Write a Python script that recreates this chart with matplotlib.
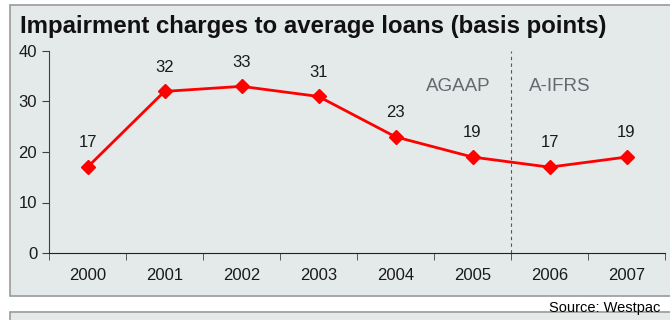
import matplotlib.pyplot as plt
from matplotlib.patches import Rectangle
import numpy as np

plt.rcParams['font.family'] = ['Liberation Sans', 'DejaVu Sans']

years = ['2000', '2001', '2002', '2003', '2004', '2005', '2006', '2007']
values = [17, 32, 33, 31, 23, 19, 17, 19]

bg = '#e4e9ea'
fig = plt.figure(figsize=(6.7, 3.2), dpi=100)

# panel boxes behind the axes
fig.patches.append(Rectangle((10 / 670, 1 - 296 / 320), 1.0, 291 / 320, transform=fig.transFigure,
                             facecolor=bg, edgecolor='#9a9a9a', lw=1.2, zorder=-5))
fig.patches.append(Rectangle((10 / 670, -0.05), 1.0, 0.05 + 8 / 320, transform=fig.transFigure,
                             facecolor=bg, edgecolor='#9a9a9a', lw=1.2, zorder=-5))

ax = fig.add_axes([49 / 670, 1 - 253 / 320, 616 / 670, 202 / 320])
ax.set_facecolor('none')

x = np.arange(len(years))
ax.plot(x, values, color='#ff0000', lw=2, marker='D', ms=7, zorder=3)
for xi, v in zip(x, values):
    ax.annotate(str(v), (xi, v), xytext=(0, 12), textcoords='offset points',
                ha='center', va='bottom', fontsize=12, color='#1a1a1a')

ax.axvline(5.5, color='#555555', lw=0.8, ls=(0, (3, 3)))
ax.text(4.81, 33, 'AGAAP', color='#5f6b6d', fontsize=13.5, ha='center', va='center')
ax.text(6.14, 33, 'A-IFRS', color='#5f6b6d', fontsize=13.5, ha='center', va='center')

ax.set_xlim(-0.5, 7.5)
ax.set_ylim(0, 40)
ax.set_yticks([0, 10, 20, 30, 40])
ax.set_xticks(x)
ax.set_xticklabels(years, fontsize=12)
ax.set_xticks(np.arange(-0.5, 8, 1), minor=True)
ax.tick_params(axis='x', which='major', length=0, pad=11)
ax.tick_params(axis='x', which='minor', length=5, direction='out', color='#404040')
ax.tick_params(axis='y', length=5, labelsize=12, color='#404040')
ax.tick_params(labelcolor='#1a1a1a')
for s in ['top', 'right']:
    ax.spines[s].set_visible(False)
ax.spines['left'].set_color('#404040')
ax.spines['bottom'].set_color('#202020')

fig.text(20 / 670, 1 - 27 / 320, 'Impairment charges to average loans (basis points)',
         fontsize=17.3, fontweight='bold', va='center', ha='left', color='#111111')
fig.text(660 / 670, 1 - 308 / 320, 'Source: Westpac', fontsize=10.5, ha='right', va='center')

fig.savefig('out.png', dpi=100)
